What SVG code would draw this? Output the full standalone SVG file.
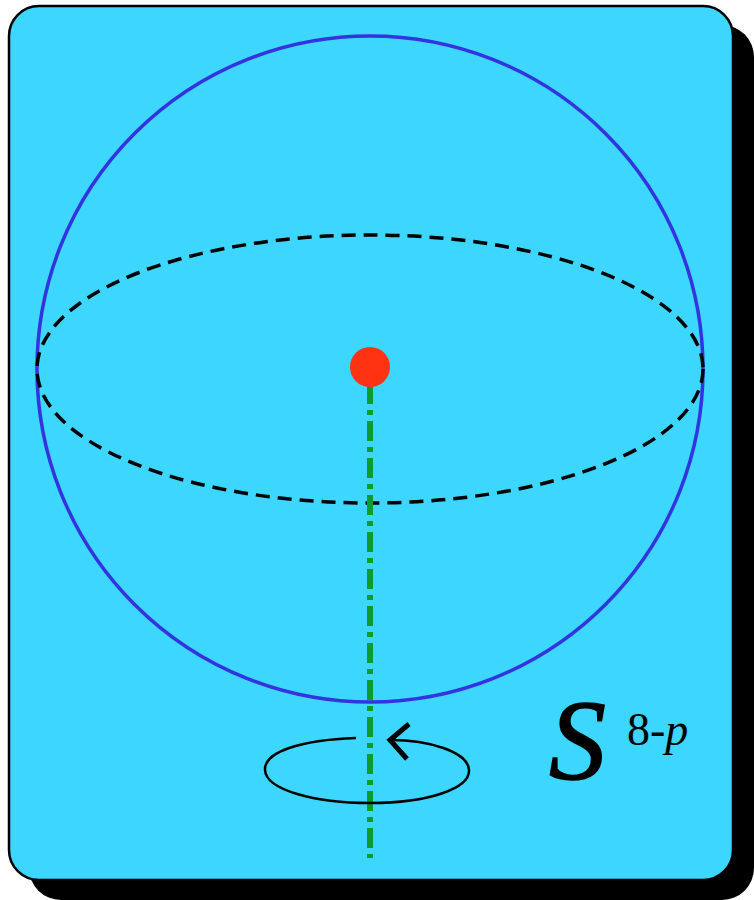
<svg xmlns="http://www.w3.org/2000/svg" width="754" height="900" viewBox="0 0 754 900">
<style>
text{font-family:'Liberation Serif',serif;fill:#000}
</style>
<rect width="754" height="900" fill="#fff"/>
<g id="panel">
<rect x="29" y="25" width="725" height="875" rx="32" fill="#000"/>
<rect x="9" y="6" width="724" height="874" rx="30" fill="#3cd6fe" stroke="#000" stroke-width="2.5"/>
</g>
<g id="sphere">
<circle cx="370" cy="369" r="333" fill="none" stroke="#3333e0" stroke-width="3.5"/>
<ellipse cx="370" cy="369" rx="333" ry="134" fill="none" stroke="#000" stroke-width="3.5" stroke-dasharray="14 8"/>
</g>
<g id="connectors">
<line x1="370" y1="384" x2="370" y2="858" stroke="#0f9c2e" stroke-width="6" stroke-dasharray="20 6 5 6"/>
</g>
<g id="center">
<circle cx="370" cy="367" r="20" fill="#ff3312"/>
</g>
<g id="rotation" fill="none" stroke="#000" stroke-width="2.5">
<path d="M356,738 C300,740 264,752 265,770 C266,790 315,803 370,803 C430,803 470,788 469,770 C468,752 430,740 390,740"/>
<path d="M409,724 L390,740 L407,759" stroke-width="5"/>
</g>
<g id="label">
<text x="549" y="779" font-size="114" font-style="italic" stroke="#000" stroke-width="1.5">S</text>
<text x="627" y="745" font-size="46">8-<tspan font-style="italic">p</tspan></text>
</g>
</svg>
